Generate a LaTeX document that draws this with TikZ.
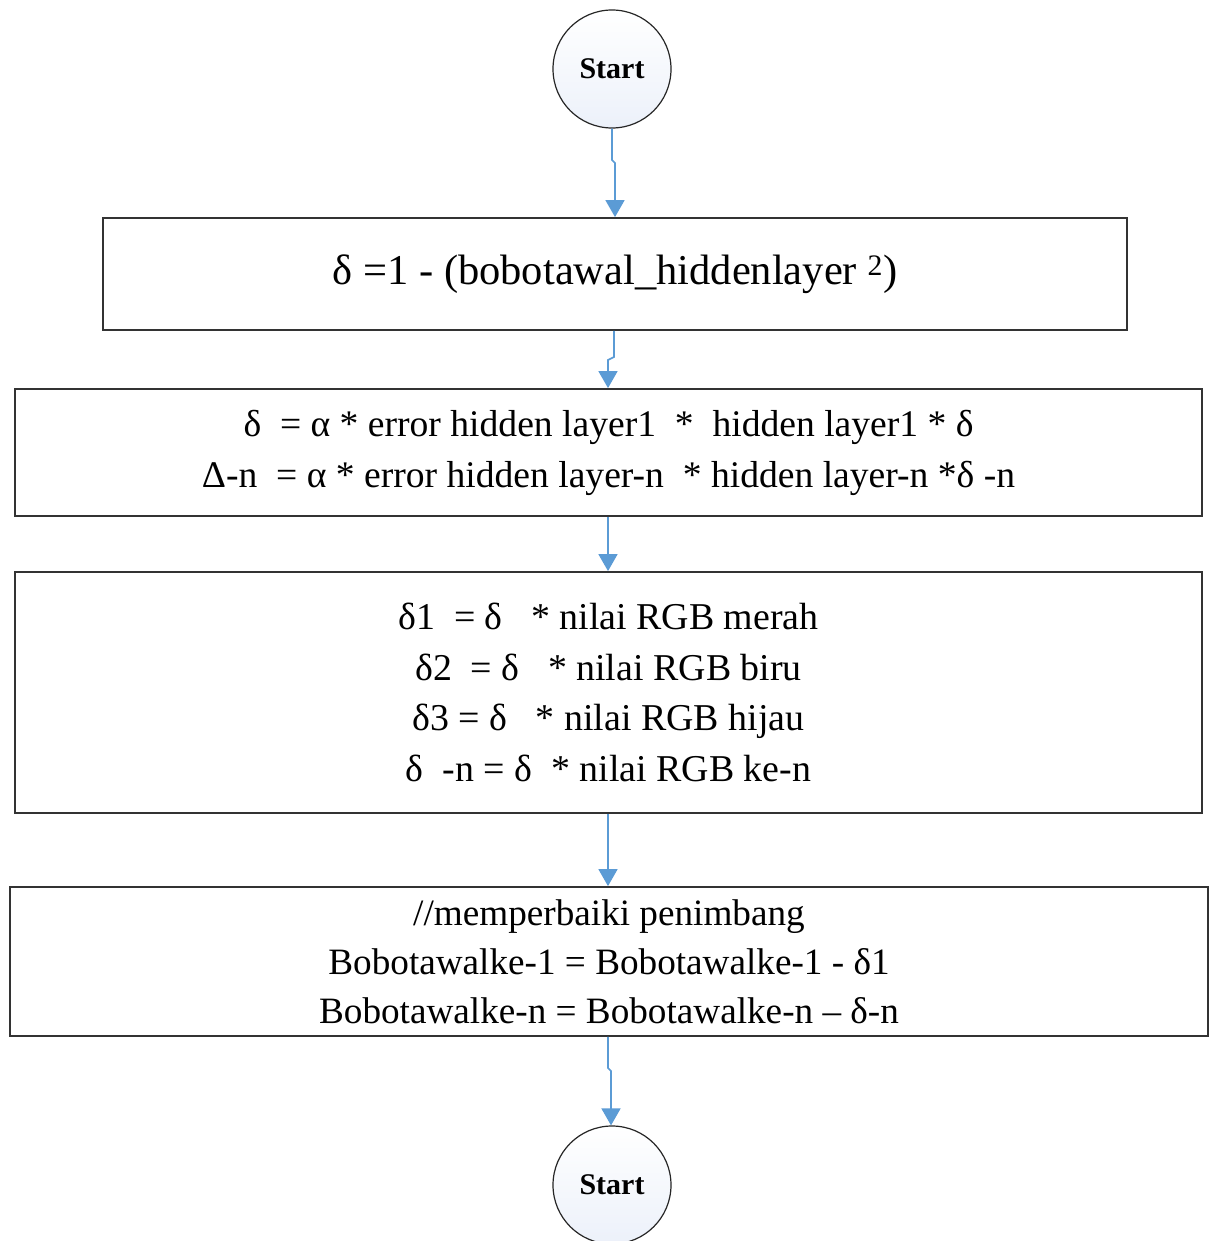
\documentclass[tikz,border=0pt]{standalone}
\usepackage{fontspec}
\setmainfont{Liberation Serif}
\usetikzlibrary{arrows.meta}

\definecolor{connblue}{RGB}{91,155,213}
\definecolor{termfill}{RGB}{236,241,250}

\tikzset{
  terminal/.style={circle, draw=black!85, line width=1.2pt,
    top color=white, bottom color=termfill,
    minimum size=118pt, inner sep=0pt, font=\fontsize{30}{36}\selectfont\bfseries},
  procbox/.style={rectangle, draw=black!80, line width=1.8pt, fill=white,
    align=center, inner sep=0pt},
  conn/.style={draw=connblue, line width=1.6pt,
    -{Triangle[width=19pt,length=17pt]}},
}

\begin{document}
\begin{tikzpicture}[x=1pt,y=-1pt]
  \useasboundingbox (0,0) rectangle (1214,1241);
  \clip (0,0) rectangle (1214,1241);
  \fill[white] (0,0) rectangle (1214,1241);

  % terminals
  \node[terminal] (start) at (612,69) {Start};
  \node[terminal] (stop) at (612,1185) {Start};

  % process boxes
  \node[procbox, minimum width=1024pt, minimum height=112pt,
        font=\fontsize{42.5}{50}\selectfont] (b1) at (615,274)
    {δ =1 - (bobotawal\_hiddenlayer \textsuperscript{2})};

  \node[procbox, minimum width=1187pt, minimum height=127pt,
        font=\fontsize{37.6}{51}\selectfont] (b2) at (608.5,452.5)
    {δ ~= α * error hidden layer1 ~* ~hidden layer1 * δ\\
     Δ-n ~= α * error hidden layer-n ~* hidden layer-n *δ -n};

  \node[procbox, minimum width=1187pt, minimum height=241pt,
        font=\fontsize{37.9}{50.5}\selectfont] (b3) at (608.5,692.5)
    {δ1 ~= δ ~~* nilai RGB merah\\
     δ2 ~= δ ~~* nilai RGB biru\\
     δ3 = δ ~~* nilai RGB hijau\\
     δ ~-n = δ ~* nilai RGB ke-n};

  \node[procbox, minimum width=1198pt, minimum height=149pt,
        font=\fontsize{37.2}{49}\selectfont] (b4) at (609,961.5)
    {//memperbaiki penimbang\\
     Bobotawalke-1 = Bobotawalke-1 - δ1\\
     Bobotawalke-n = Bobotawalke-n – δ-n};

  % small routing offsets in the connectors
  \coordinate (j1a) at (612,160);
  \coordinate (j1b) at (615,163);
  \coordinate (j2a) at (614,357);
  \coordinate (j2b) at (608,360);
  \coordinate (j5a) at (608,1068);
  \coordinate (j5b) at (611,1071);

  % connectors
  \draw[conn] (start.south) -- (j1a) -- (j1b) -- (j1b |- b1.north);
  \draw[conn] (b1.south -| j2a) -- (j2a) -- (j2b) -- (j2b |- b2.north);
  \draw[conn] (b2.south -| j2b) -- (j2b |- b3.north);
  \draw[conn] (b3.south -| j2b) -- (j2b |- b4.north);
  \draw[conn] (b4.south -| j5a) -- (j5a) -- (j5b) -- (stop.north -| j5b);
\end{tikzpicture}
\end{document}
